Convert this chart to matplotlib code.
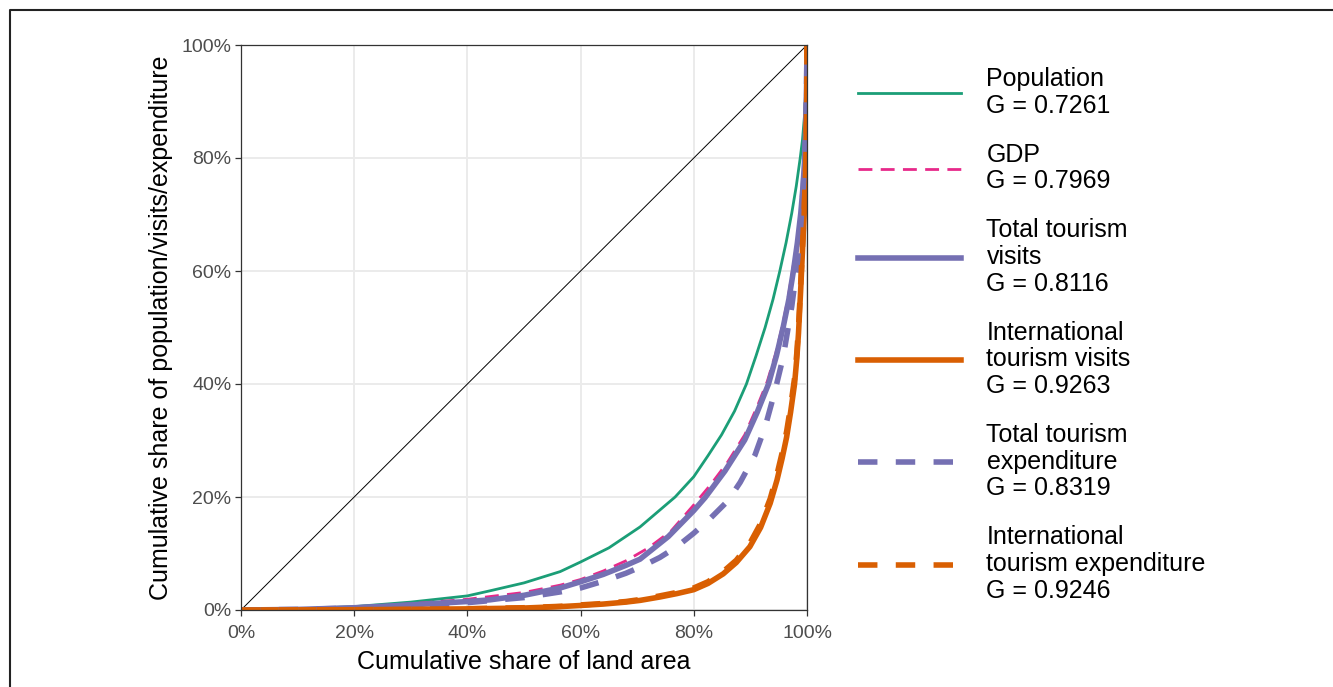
import matplotlib
matplotlib.use("Agg")
import matplotlib.pyplot as plt
from matplotlib.lines import Line2D
from matplotlib.ticker import PercentFormatter

plt.rcParams['font.family'] = ['Liberation Sans', 'DejaVu Sans']

# Lorenz curves (x = cumulative land area %, y = cumulative share %)
pop_x = [0, 10, 20, 30, 40, 44, 50, 56.4, 60, 65, 70.5, 76.7, 80, 82.5, 84.9, 87.2, 89.3, 91, 92.6, 94, 95.2, 96.3, 97.3, 98.1, 98.8, 99.2, 99.6, 99.85, 100]
pop_y = [0, 0.2, 0.6, 1.4, 2.5, 3.4, 4.8, 6.8, 8.5, 11, 14.7, 20, 23.6, 27.3, 31.0, 35.2, 40, 45, 50, 55, 60, 65, 70.2, 75, 80, 83.2, 88, 94, 100]

gdp_x = [0, 10, 20, 30, 40, 50, 56.4, 60, 64, 68, 72, 76, 80, 83, 86, 89, 91.2, 93, 94.5, 95.7, 96.7, 97.5, 98.3, 98.9, 99.3, 99.6, 99.8, 99.93, 100]
gdp_y = [0, 0.15, 0.5, 1.1, 1.9, 3.1, 4.4, 5.4, 6.9, 8.7, 11.0, 14.0, 18.6, 22.2, 26.2, 31, 36, 40.5, 45.5, 50.5, 55.5, 60.5, 65.5, 70.5, 75.3, 80.2, 86, 93, 100]

tvis_x = [0, 10, 20, 30, 40, 44, 50, 56.4, 60, 64, 68, 70.5, 75.5, 80, 82, 85.5, 89, 91.2, 93.2, 94.6, 95.8, 96.8, 97.6, 98.3, 98.9, 99.3, 99.6, 99.8, 99.93, 100]
tvis_y = [0, 0.1, 0.4, 0.9, 1.5, 1.8, 2.6, 3.9, 5.0, 6.3, 7.9, 9.0, 13.0, 17.6, 19.9, 24.6, 30.1, 35, 40, 45, 50.1, 55, 60, 65, 70.2, 75, 80, 86, 93, 100]

ivis_x = [0, 20, 40, 50, 56.4, 60, 64, 68, 70.5, 74, 77, 80, 82.5, 85.2, 87.5, 89.9, 91.8, 93.5, 94.7, 95.6, 96.4, 97.1, 97.8, 98.2, 98.5, 98.9, 99.5, 99.8, 99.95, 100]
ivis_y = [0, 0.05, 0.2, 0.35, 0.6, 0.8, 1.05, 1.4, 1.7, 2.3, 2.9, 3.6, 4.7, 6.4, 8.4, 11.2, 14.6, 18.9, 23, 26.8, 30.6, 35, 40, 44.5, 49, 57, 70, 79, 90, 100]

texp_x = [0, 10, 20, 30, 40, 50, 56.4, 60, 64, 68, 71, 74, 77, 80, 83, 86, 88.2, 90.8, 92.6, 94.3, 95.8, 97.3, 98.2, 98.9, 99.4, 99.7, 99.9, 100]
texp_y = [0, 0.1, 0.35, 0.8, 1.3, 2.2, 3.2, 3.9, 5.1, 6.5, 7.8, 9.3, 11.2, 13.6, 16.3, 19.3, 22.6, 27.4, 32.4, 38.6, 44.8, 53.7, 60.5, 68, 76, 83, 91, 100]

iexp_x = [0, 20, 40, 50, 56.4, 60, 64, 68, 70.5, 74, 77, 80, 82.5, 85.2, 87.5, 89.9, 91.8, 93.5, 94.7, 95.6, 96.4, 97.1, 97.8, 98.2, 98.5, 98.9, 99.5, 99.8, 99.95, 100]
iexp_y = [0, 0.06, 0.22, 0.4, 0.65, 0.9, 1.15, 1.5, 1.85, 2.5, 3.1, 3.9, 5.0, 6.8, 8.8, 11.8, 15.3, 19.7, 24, 27.8, 31.6, 36, 41, 45.5, 50, 58, 70.5, 79.5, 90, 100]

labels = ['Population\nG = 0.7261',
          'GDP\nG = 0.7969',
          'Total tourism\nvisits\nG = 0.8116',
          'International\ntourism visits\nG = 0.9263',
          'Total tourism\nexpenditure\nG = 0.8319',
          'International\ntourism expenditure\nG = 0.9246']

fig = plt.figure(figsize=(13.33, 6.87), dpi=100)
ax = fig.add_axes([241/1333, 1-610/687, 566/1333, 565/687])

kw = dict(solid_joinstyle='round', dash_joinstyle='round')
ax.plot([0, 100], [0, 100], color='black', lw=0.7)
ax.plot(pop_x, pop_y, color='#1B9E77', lw=2.0, label=labels[0], **kw)
ax.plot(gdp_x, gdp_y, color='#E7298A', lw=2.0, dashes=(5, 3), label=labels[1], **kw)
ax.plot(tvis_x, tvis_y, color='#7570B3', lw=4.0, label=labels[2], **kw)
ax.plot(ivis_x, ivis_y, color='#D95F02', lw=4.0, label=labels[3], **kw)
ax.plot(texp_x, texp_y, color='#7570B3', lw=4.0, dashes=(3.5, 3.3), label=labels[4], **kw)
ax.plot(iexp_x, iexp_y, color='#D95F02', lw=4.0, dashes=(3.5, 3.3), label=labels[5], **kw)

ax.set_xlim(0, 100)
ax.set_ylim(0, 100)
ax.set_xticks([0, 20, 40, 60, 80, 100])
ax.set_yticks([0, 20, 40, 60, 80, 100])
ax.xaxis.set_major_formatter(PercentFormatter(100, decimals=0))
ax.yaxis.set_major_formatter(PercentFormatter(100, decimals=0))
ax.grid(True, color='#EBEBEB', lw=1.4)
ax.set_axisbelow(True)
for s in ax.spines.values():
    s.set_color('#333333')
    s.set_linewidth(0.9)
ax.tick_params(axis='both', length=4, width=0.9, color='#333333', labelsize=14, labelcolor='#4D4D4D', pad=3)
ax.tick_params(axis='x', pad=6.5)
ax.set_xlabel('Cumulative share of land area', fontsize=18, labelpad=6)
ax.set_ylabel('Cumulative share of population/visits/expenditure', fontsize=18, labelpad=6)

leg = ax.legend(loc='upper left', bbox_to_anchor=(858/1333, 1-67/687), bbox_transform=fig.transFigure,
                frameon=False, fontsize=18, handlelength=4.1, handletextpad=1.04,
                labelspacing=1.0, borderpad=0, borderaxespad=0)
for t in leg.get_texts():
    t.set_linespacing(1.14)

# outer frame (top and left edges only, as in the source image)
fig.add_artist(Line2D([9.5/1333, 9.5/1333, 1], [0, 1-9.5/687, 1-9.5/687],
                      transform=fig.transFigure, color='#222222', lw=1.5))

fig.savefig('out.png', dpi=100)
